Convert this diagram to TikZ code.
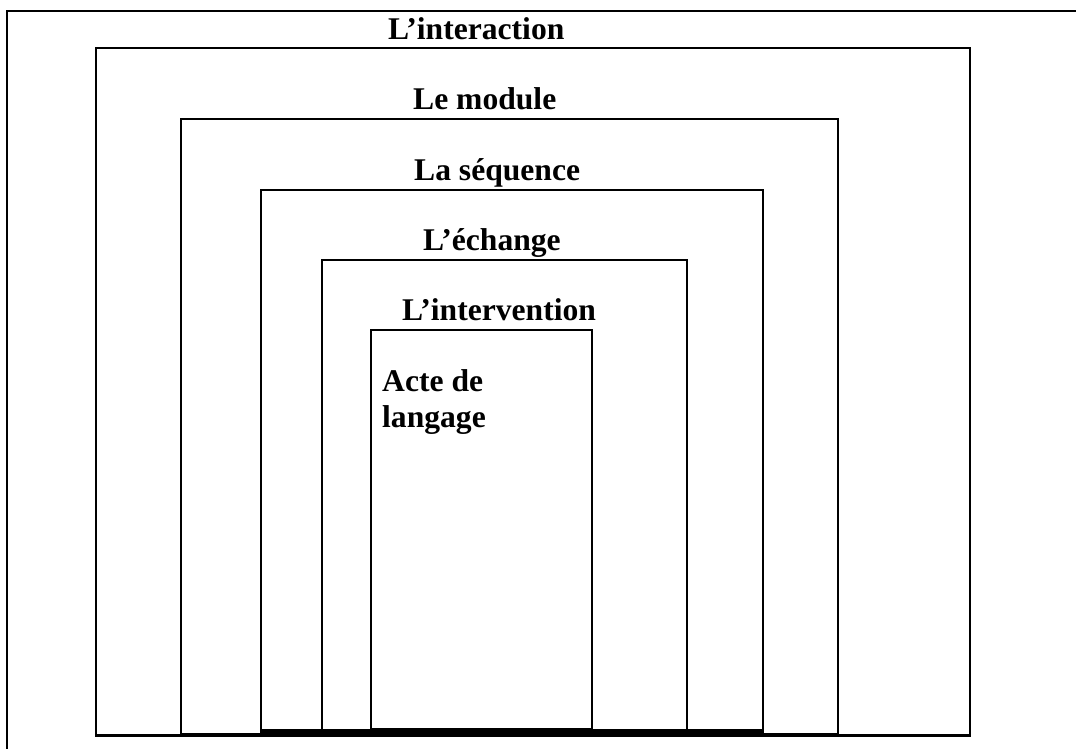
\documentclass[tikz,border=0pt]{standalone}
\usepackage{fontspec}
\setmainfont{Liberation Serif}
\begin{document}
\begin{tikzpicture}[x=1pt,y=-1pt,
  frame/.style={line width=2.6pt,line join=miter},
  level/.style={font=\bfseries\fontsize{31.6}{36.5}\selectfont,inner sep=0pt,anchor=base west}]
\useasboundingbox (0,0) rectangle (1076,749);
\fill[white] (0,0) rectangle (1076,749);
% surrounding frame, open to the right and bottom
\draw[frame] (1076,11) -- (7,11) -- (7,749);
% nested levels, outermost first
\draw[frame] (96,48)  rectangle (970,735.5);
\draw[frame] (181,119) rectangle (838,734);
\draw[frame] (261,190) rectangle (763,732.5);
\draw[frame] (322,260) rectangle (687,731);
\draw[frame] (371,330) rectangle (592,729.5);
% heavy base where the bottom edges meet
\fill (261,728.5) rectangle (763,736.8);
% level labels
\node[level] (interaction) at (388,40) {L’interaction};
\node[level] (module) at (413,110) {Le module};
\node[level] (sequence) at (414,180) {La séquence};
\node[level] (echange) at (423,250) {L’échange};
\node[level] (intervention) at (402,320) {L’intervention};
\node[level,align=left,anchor=north west] (acte) at (382,369) {Acte de\\langage};
\end{tikzpicture}
\end{document}
